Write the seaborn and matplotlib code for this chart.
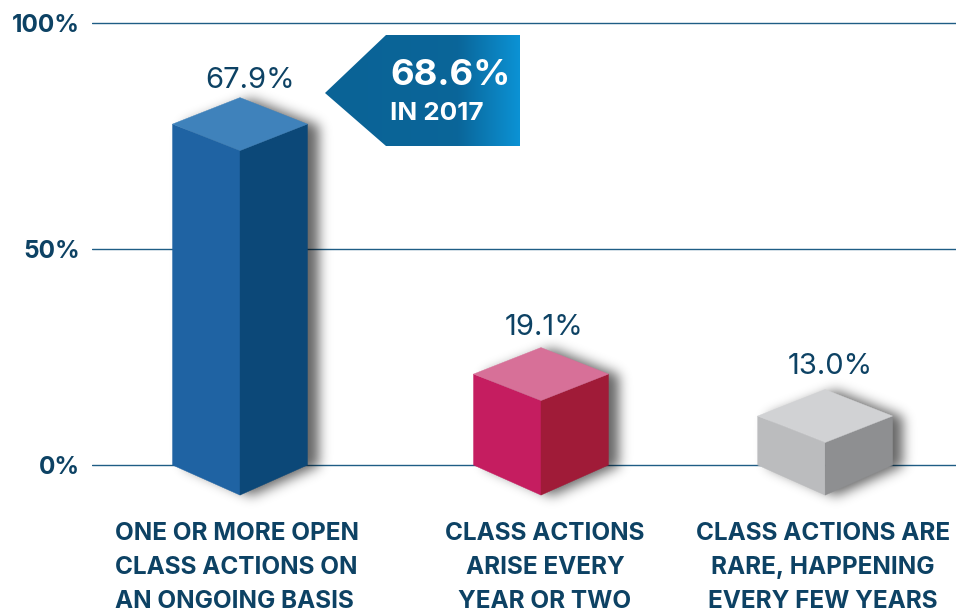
import numpy as np
import pandas as pd
import seaborn as sns
import matplotlib.pyplot as plt
from matplotlib.patches import Polygon
from matplotlib.path import Path

# values printed on the chart, and bar heights as read against the axis
categories = ['One or more open', 'Every year or two', 'Rare']
printed_values = [67.9, 19.1, 13.0]
drawn_heights = [77.2, 20.6, 11.1]
category_labels = ['ONE OR MORE OPEN\nCLASS ACTIONS ON\nAN ONGOING BASIS',
                   'CLASS ACTIONS\nARISE EVERY\nYEAR OR TWO',
                   'CLASS ACTIONS ARE\nRARE, HAPPENING\nEVERY FEW YEARS']
tick_labels = ['0%', '50%', '100%']
callout_value = '68.6%'
callout_note = 'IN 2017'

bar_centres = [0, 1, 1.944]
tick_positions = [0, 49, 100]
left_colors = ['#1f63a3', '#c51d60', '#bbbcbe']
right_colors = ['#0c4878', '#a01b38', '#8e8f91']
top_colors = ['#3f82bb', '#d77098', '#d1d2d4']
label_offsets = [(10, 10), (3, 13), (5, 16)]
label_x = [115, 545, 823]
label_ha = ['left', 'center', 'center']

TEXT = '#0d4264'
LINE = '#1f5d85'
FONT = 'Inter'
DEPTH_TOP = 6.0
DEPTH_BOTTOM = 6.8

sns.set_theme(style='white')
plt.rcParams['font.family'] = [FONT, 'DejaVu Sans']

W, H = 956, 613
PX_X = 301
PX_Y = 4.417
fig = plt.figure(figsize=(W / 100, H / 100), dpi=100)
ax = fig.add_axes([92 / W, 0, 1 - 92 / W, 1])

df = pd.DataFrame({'category': categories, 'centre': bar_centres, 'height': drawn_heights})
sns.barplot(data=df, x='centre', y='height', native_scale=True, width=0.475,
            color='#1f63a3', ax=ax)
XLIM = (-0.4917, 2.3787)
YLIM = (-33.5, 105.3)
ax.set_xlabel('')
ax.set_ylabel('')
ax.set_xticks([])
ax.set_yticks(tick_positions, tick_labels, fontsize=17.5, fontweight='bold', color=TEXT)
ax.tick_params(axis='y', length=0, pad=8.4)
sns.despine(ax=ax, left=True, bottom=True, top=True, right=True)
ax.grid(False)
for t in tick_positions:
    ax.axhline(t, color=LINE, lw=1, zorder=0.5)


def blur(a, sigma):
    r = int(sigma * 3)
    k = np.exp(-0.5 * (np.arange(-r, r + 1) / sigma) ** 2)
    k /= k.sum()
    a = np.apply_along_axis(lambda m: np.convolve(m, k, mode='same'), 0, a)
    return np.apply_along_axis(lambda m: np.convolve(m, k, mode='same'), 1, a)


def soft_shadow(outlines):
    # raster of the blurred bar outlines, shifted to the lower right
    xs = np.linspace(XLIM[0], XLIM[1], W - 92)
    ys = np.linspace(YLIM[1], YLIM[0], H)
    gx, gy = np.meshgrid(xs, ys)
    grid = np.column_stack([gx.ravel(), gy.ravel()])
    mask = np.zeros(gx.shape)
    for pts in outlines:
        shifted = np.array(pts) + [11 / PX_X, -1 / PX_Y]
        mask = np.maximum(mask, Path(shifted).contains_points(grid).reshape(gx.shape).astype(float))
    alpha = blur(mask, 6) * 0.6
    rgba = np.zeros(gx.shape + (4,))
    rgba[..., 3] = alpha
    ax.imshow(rgba, extent=(XLIM[0], XLIM[1], YLIM[0], YLIM[1]), aspect='auto', zorder=1)


bars = sorted(ax.patches, key=lambda p: p.get_x())
rects = [(b.get_x(), b.get_width(), b.get_height()) for b in bars]
for b in bars:
    b.remove()

outlines = []
for i, (x0, w, h) in enumerate(rects):
    cx = x0 + w / 2
    x1 = x0 + w
    left = [(x0, h), (cx, h - DEPTH_TOP), (cx, -DEPTH_BOTTOM), (x0, 0)]
    right = [(cx, h - DEPTH_TOP), (x1, h), (x1, 0), (cx, -DEPTH_BOTTOM)]
    top = [(x0, h), (cx, h + DEPTH_TOP), (x1, h), (cx, h - DEPTH_TOP)]
    outlines.append([(x0, h), (cx, h + DEPTH_TOP), (x1, h), (x1, 0), (cx, -DEPTH_BOTTOM), (x0, 0), (x0, h)])
    ax.add_patch(Polygon(left, closed=True, fc=left_colors[i], ec=left_colors[i], lw=0.3, zorder=2))
    ax.add_patch(Polygon(right, closed=True, fc=right_colors[i], ec=right_colors[i], lw=0.3, zorder=2))
    ax.add_patch(Polygon(top, closed=True, fc=top_colors[i], ec=top_colors[i], lw=0.3, zorder=2))
    ax.annotate(f'{printed_values[i]:.1f}%', xy=(cx, h + DEPTH_TOP),
                xytext=(label_offsets[i][0] * 0.72, label_offsets[i][1] * 0.72),
                textcoords='offset points', ha='center', va='baseline',
                fontsize=21, color=TEXT, zorder=3)
    fig.text(label_x[i] / W, 1 - 522 / H, category_labels[i], ha=label_ha[i], va='top',
             multialignment=label_ha[i], fontsize=17.5, fontweight='bold', color=TEXT,
             linespacing=1.6)

soft_shadow(outlines)
ax.set_xlim(*XLIM)
ax.set_ylim(*YLIM)

# callout box with the gradient running into the right edge
cax = fig.add_axes([325 / W, 1 - 146 / H, 195 / W, 111 / H])
cax.axis('off')
stops = np.interp(np.linspace(0, 1, 200), [0, 0.68, 1], [0, 0.05, 1])
rgb0 = np.array([0x0a, 0x63, 0x96]) / 255
rgb1 = np.array([0x0c, 0x92, 0xd4]) / 255
grad = (rgb0[None, :] + stops[:, None] * (rgb1 - rgb0))[None, :, :]
im = cax.imshow(grad, extent=(0, 195, 0, 111), aspect='auto')
cax.set_xlim(0, 195)
cax.set_ylim(0, 111)
shape = Polygon([(0, 53), (61, 111), (195, 111), (195, 0), (61, 0)], closed=True,
                transform=cax.transData, fc='none', ec='none')
cax.add_patch(shape)
im.set_clip_path(shape)
fig.text(390 / W, 1 - 85 / H, callout_value, color='white', fontsize=26.3, fontweight='bold',
         ha='left', va='baseline')
fig.text(390 / W, 1 - 120 / H, callout_note, color='white', fontsize=18.7, fontweight='bold',
         ha='left', va='baseline')

fig.savefig('out.png', dpi=100)
